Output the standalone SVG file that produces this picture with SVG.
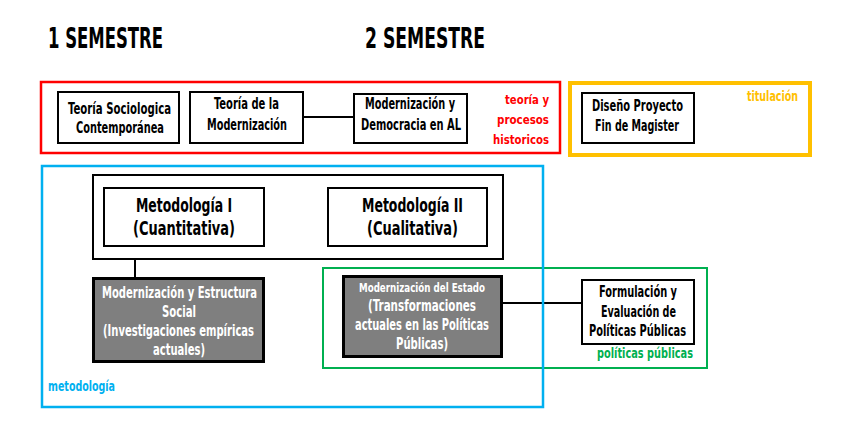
<svg xmlns="http://www.w3.org/2000/svg" width="844" height="437" viewBox="0 0 844 437">
<style>
text{font-family:"DejaVu Sans Condensed","DejaVu Sans","Liberation Sans",sans-serif;font-weight:bold}
.t{font-size:16px;fill:#000;text-anchor:middle}
.tw{font-size:16px;fill:#fff;text-anchor:middle}
.big{font-size:20px;fill:#000;text-anchor:middle}
.hd{font-size:28px;fill:#000}
.lbl{font-size:14px}
.lbr{font-size:12px;fill:#ff0000;text-anchor:end}
.box{fill:#fff;stroke:#000;stroke-width:2}
.gbox{fill:#7f7f7f;stroke:#000;stroke-width:3}
.ln{stroke:#000;stroke-width:2;fill:none}
</style>
<rect width="844" height="437" fill="#fff"/>
<g id="headers">
<text class="hd" x="48" y="48" textLength="115" lengthAdjust="spacingAndGlyphs">1 SEMESTRE</text>
<text class="hd" x="365" y="48" textLength="120" lengthAdjust="spacingAndGlyphs">2 SEMESTRE</text>
</g>
<g id="frame-teoria">
<rect x="41" y="82" width="519" height="71" fill="none" stroke="#ff0000" stroke-width="2.5"/>
<text class="lbr" x="549" y="104" textLength="44" lengthAdjust="spacingAndGlyphs">teoría y</text>
<text class="lbr" x="549" y="124" textLength="52" lengthAdjust="spacingAndGlyphs">procesos</text>
<text class="lbr" x="549" y="144" textLength="56" lengthAdjust="spacingAndGlyphs">historicos</text>
</g>
<g id="frame-titulacion">
<rect x="570" y="83" width="240" height="72" fill="none" stroke="#ffc000" stroke-width="4"/>
<text class="lbl" fill="#ffc000" x="747" y="101" textLength="51" lengthAdjust="spacingAndGlyphs">titulación</text>
</g>
<g id="frame-politicas">
<rect x="323" y="268" width="384" height="100" fill="none" stroke="#00b050" stroke-width="2"/>
<text class="lbl" fill="#00b050" x="597" y="358" textLength="96" lengthAdjust="spacingAndGlyphs">políticas públicas</text>
</g>
<g id="metodologias-group">
<rect class="box" x="93" y="175" width="410" height="84"/>
</g>
<g id="connectors">
<line class="ln" x1="303" y1="117" x2="354" y2="117"/>
<line class="ln" x1="135" y1="259" x2="135" y2="278"/>
<line class="ln" x1="502" y1="303" x2="582" y2="303"/>
</g>
<g id="frame-metodologia">
<rect x="42" y="166" width="501" height="241" fill="none" stroke="#00b0f0" stroke-width="2.5"/>
<text class="lbl" fill="#00b0f0" x="48" y="391" textLength="67" lengthAdjust="spacingAndGlyphs">metodología</text>
</g>
<g id="n-teoria-sociologica">
<rect class="box" x="58" y="92" width="121" height="51"/>
<text class="t" x="119.5" y="114" textLength="103" lengthAdjust="spacingAndGlyphs">Teoría Sociologica</text>
<text class="t" x="120" y="133" textLength="88" lengthAdjust="spacingAndGlyphs">Contemporánea</text>
</g>
<g id="n-teoria-modernizacion">
<rect class="box" x="190" y="92" width="113" height="51"/>
<text class="t" x="246.5" y="109" textLength="65" lengthAdjust="spacingAndGlyphs">Teoría de la</text>
<text class="t" x="247" y="130" textLength="80" lengthAdjust="spacingAndGlyphs">Modernización</text>
</g>
<g id="n-modernizacion-democracia">
<rect class="box" x="354" y="94" width="113" height="49"/>
<text class="t" x="410" y="109" textLength="90" lengthAdjust="spacingAndGlyphs">Modernización y</text>
<text class="t" x="411" y="130" textLength="100" lengthAdjust="spacingAndGlyphs">Democracia en AL</text>
</g>
<g id="n-diseno-proyecto">
<rect class="box" x="582" y="93" width="112" height="50"/>
<text class="t" x="637.5" y="111" textLength="91" lengthAdjust="spacingAndGlyphs">Diseño Proyecto</text>
<text class="t" x="637" y="131" textLength="84" lengthAdjust="spacingAndGlyphs">Fin de Magister</text>
</g>
<g id="n-metodologia-1">
<rect class="box" x="104" y="188" width="160" height="58"/>
<text class="big" x="184" y="212" textLength="96" lengthAdjust="spacingAndGlyphs">Metodología I</text>
<text class="big" x="184" y="235" textLength="102" lengthAdjust="spacingAndGlyphs">(Cuantitativa)</text>
</g>
<g id="n-metodologia-2">
<rect class="box" x="328" y="188" width="159" height="58"/>
<text class="big" x="412.5" y="212" textLength="101" lengthAdjust="spacingAndGlyphs">Metodología II</text>
<text class="big" x="412.5" y="235" textLength="91" lengthAdjust="spacingAndGlyphs">(Cualitativa)</text>
</g>
<g id="n-modernizacion-estructura">
<rect class="gbox" x="93.5" y="278.5" width="170" height="83"/>
<text class="tw" x="179.5" y="298" textLength="155" lengthAdjust="spacingAndGlyphs">Modernización y Estructura</text>
<text class="tw" x="179" y="317" textLength="34" lengthAdjust="spacingAndGlyphs">Social</text>
<text class="tw" x="178.5" y="336" textLength="151" lengthAdjust="spacingAndGlyphs">(Investigaciones empíricas</text>
<text class="tw" x="179" y="355" textLength="52" lengthAdjust="spacingAndGlyphs">actuales)</text>
</g>
<g id="n-modernizacion-estado">
<rect class="gbox" x="343.5" y="276.5" width="158" height="80"/>
<text class="tw" style="font-size:12px" x="422" y="292" textLength="126" lengthAdjust="spacingAndGlyphs">Modernización del Estado</text>
<text class="tw" x="422" y="311" textLength="108" lengthAdjust="spacingAndGlyphs">(Transformaciones</text>
<text class="tw" x="422" y="330" textLength="134" lengthAdjust="spacingAndGlyphs">actuales en las Políticas</text>
<text class="tw" x="422" y="349" textLength="52" lengthAdjust="spacingAndGlyphs">Públicas)</text>
</g>
<g id="n-formulacion">
<rect class="box" x="582" y="280" width="112" height="64"/>
<text class="t" x="638" y="297" textLength="78" lengthAdjust="spacingAndGlyphs">Formulación y</text>
<text class="t" x="638.5" y="317" textLength="75" lengthAdjust="spacingAndGlyphs">Evaluación de</text>
<text class="t" x="637.5" y="336" textLength="97" lengthAdjust="spacingAndGlyphs">Políticas Públicas</text>
</g>
</svg>
